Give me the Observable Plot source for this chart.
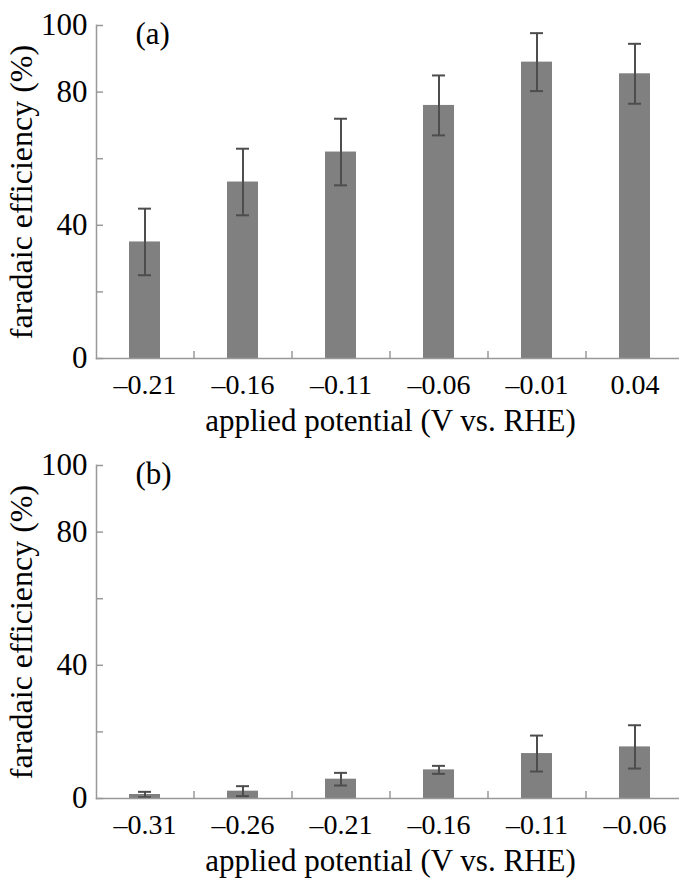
<!DOCTYPE html>
<html><head><meta charset="utf-8">
<script src="https://cdn.jsdelivr.net/npm/d3@7"></script>
<script src="https://cdn.jsdelivr.net/npm/@observablehq/plot@0.6"></script>
<style>
html,body{margin:0;background:#fff;overflow:hidden}
svg{display:block;max-width:none !important}
svg text{font-family:"Liberation Serif","Times New Roman",serif}
</style>
</head><body><div id="chart"></div>
<script>
const potentialsA = ["–0.21","–0.16","–0.11","–0.06","–0.01","0.04"];
const efficiencyA = [35, 53, 62, 76, 89, 85.5];
const errorA = [10, 10, 10, 9, 8.7, 9];
const potentialsB = ["–0.31","–0.26","–0.21","–0.16","–0.11","–0.06"];
const efficiencyB = [1.2, 2.2, 5.8, 8.6, 13.5, 15.5];
const errorB = [0.8, 1.5, 1.9, 1.2, 5.4, 6.5];
const yTicks = [0, 20, 40, 60, 80, 100];
const yLabels = [0, 40, 80, 100];
const panelLabels = ["(a)", "(b)"];
const xTitle = "applied potential (V vs. RHE)";
const yTitle = "faradaic efficiency (%)";

const W = 679, ML = 96, MR = -5;
const step = (W - ML - MR) / 6;
const axisColor = "#999";

function panel(potentials, values, errors, label, height, marginBottom) {
  const data = potentials.map((p, i) => ({p, v: values[i], lo: values[i] - errors[i], hi: values[i] + errors[i]}));
  return Plot.plot({
    width: W, height, marginLeft: ML, marginRight: MR, marginTop: 25, marginBottom,
    style: {fontFamily: "'Liberation Serif', 'Times New Roman', serif", color: "#000", background: "#fff"},
    x: {domain: potentials, paddingInner: 0.68, paddingOuter: 0.34, axis: null},
    y: {domain: [0, 100], axis: null},
    marks: [
      Plot.barY(data, {x: "p", y: "v", fill: "#808080"}),
      Plot.ruleX(data, {x: "p", y1: "lo", y2: "hi", stroke: "#4d4d4d", strokeWidth: 2}),
      Plot.tickY(data, {x: "p", y: "hi", stroke: "#4d4d4d", strokeWidth: 2, insetLeft: 9, insetRight: 9}),
      Plot.tickY(data, {x: "p", y: "lo", stroke: "#4d4d4d", strokeWidth: 2, insetLeft: 9, insetRight: 9}),
      Plot.frame({anchor: "left", stroke: axisColor, strokeWidth: 1.5}),
      Plot.frame({anchor: "bottom", stroke: axisColor, strokeWidth: 1.5}),
      Plot.ruleX(potentials.slice(1), {x: d => d, dx: -step / 2, y1: 0, y2: 2.1, stroke: axisColor, strokeWidth: 1.5}),
      Plot.axisY({ticks: yTicks, tickSize: 7, dx: 7, fill: "none", stroke: axisColor, strokeWidth: 1.5, label: null}),
      Plot.axisY({ticks: yLabels, tickSize: 0, tickPadding: 9, fontSize: 31, fill: "#000", label: null}),
      Plot.axisY({ticks: [], label: yTitle, labelAnchor: "center", labelArrow: false, labelOffset: 87, fontSize: 32, fill: "#000"}),
      Plot.axisX({tickSize: 0, tickPadding: 16, fontSize: 28, fill: "#000", label: null}),
      Plot.axisX({ticks: [], label: xTitle, labelAnchor: "center", labelArrow: false, labelOffset: 72, fontSize: 31, fill: "#000"}),
      Plot.text([label], {text: d => d, frameAnchor: "top-left", textAnchor: "start", lineAnchor: "top", dx: 39, dy: -4, fontSize: 31, fill: "#000"})
    ]
  });
}

const root = document.getElementById("chart");
root.append(panel(potentialsA, efficiencyA, errorA, panelLabels[0], 440, 82));
root.append(panel(potentialsB, efficiencyB, errorB, panelLabels[1], 441, 83));
</script>
</body></html>
